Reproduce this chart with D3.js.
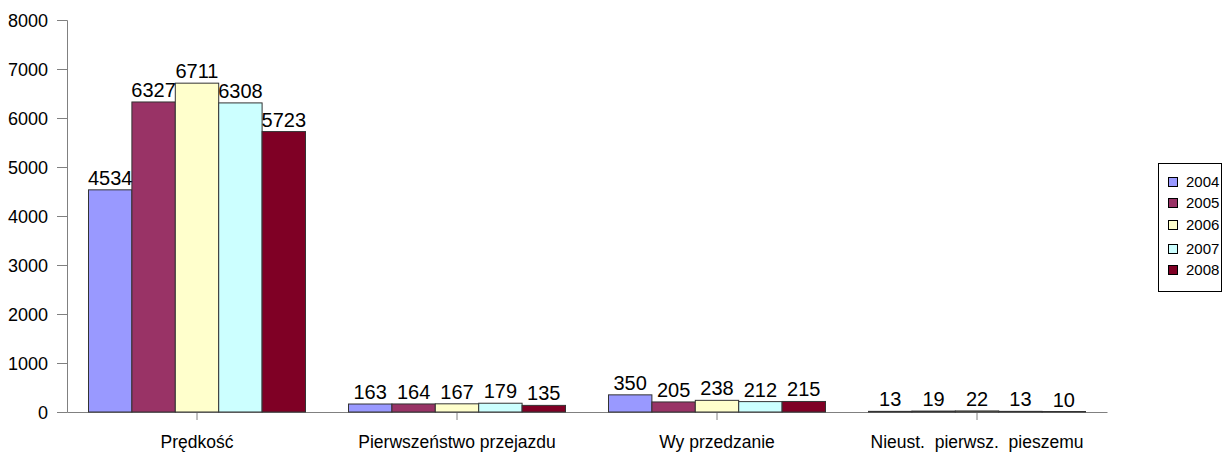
<!DOCTYPE html>
<html>
<head>
<meta charset="utf-8">
<script src="https://cdn.jsdelivr.net/npm/d3@7"></script>
<style>
  body { margin: 0; background: #fff; }
  text { font-family: Arial, "Liberation Sans", sans-serif; fill: #000; }
</style>
</head>
<body>
<div id="vis"></div>
<script>
// data
var categories = ['Prędkość', 'Pierwszeństwo przejazdu', 'Wy przedzanie', 'Nieust.  pierwsz.  pieszemu'];
var years = ['2004', '2005', '2006', '2007', '2008'];
var v2004 = [4534, 163, 350, 13];
var v2005 = [6327, 164, 205, 19];
var v2006 = [6711, 167, 238, 22];
var v2007 = [6308, 179, 212, 13];
var v2008 = [5723, 135, 215, 10];
var yTicks = [0, 1000, 2000, 3000, 4000, 5000, 6000, 7000, 8000];
var colors = ['#9999ff', '#993366', '#ffffcc', '#ccffff', '#7f0025'];

var series = [v2004, v2005, v2006, v2007, v2008];

var svgW = 1227, svgH = 452;
var svg = d3.select('#vis').append('svg').attr('width', svgW).attr('height', svgH);
var g = svg.append('g');

var x0 = d3.scaleBand().domain(categories).range([67, 1107]);
// group of 5 bars ~217px wide inside each 260px band
var x1 = d3.scaleBand().domain(years).range([21.5, x0.bandwidth() - 21.5]);
var y = d3.scaleLinear().domain([0, 8000]).range([412, 20]);

//y axis
var yAxis = d3.axisLeft(y).tickValues(yTicks).tickSize(10).tickPadding(9).tickFormat(d3.format('d'));
var ya = g.append('g').attr('transform', 'translate(67,0)').call(yAxis);
ya.select('.domain').attr('stroke', '#808080');
ya.selectAll('line').attr('stroke', '#808080');
ya.selectAll('text').style('font-size', '18px').attr('dy', '0.35em');

//x axis
var xAxis = d3.axisBottom(x0).tickSize(8).tickSizeOuter(0);
var xa = g.append('g').attr('transform', 'translate(0,412)').call(xAxis);
xa.select('.domain').attr('stroke', '#808080');
xa.selectAll('line').attr('stroke', '#808080');
xa.selectAll('text').style('font-size', '17.5px').style('white-space', 'pre')
  .attr('y', 36).attr('dy', '0');

//bars
var groups = g.selectAll('.grp').data(categories).enter().append('g')
  .attr('class', 'grp').attr('transform', function (d) { return 'translate(' + x0(d) + ',0)'; });

groups.each(function (cat, ci) {
  var gg = d3.select(this);
  var rows = years.map(function (yr, si) { return { yr: yr, val: series[si][ci], si: si }; });
  gg.selectAll('rect').data(rows).enter().append('rect')
    .attr('x', function (d) { return x1(d.yr); })
    .attr('y', function (d) { return y(d.val); })
    .attr('width', x1.bandwidth())
    .attr('height', function (d) { return y(0) - y(d.val); })
    .style('fill', function (d) { return colors[d.si]; })
    .style('stroke', '#333')
    .style('stroke-width', 1);
  gg.selectAll('.lbl').data(rows).enter().append('text').attr('class', 'lbl')
    .text(function (d) { return d.val; })
    .attr('x', function (d) { return x1(d.yr) + x1.bandwidth() / 2; })
    .attr('y', function (d) { return y(d.val) - 5; })
    .attr('text-anchor', 'middle')
    .style('font-size', '20px');
});

//legend
var leg = g.append('g');
leg.append('rect').attr('x', 1158.5).attr('y', 163.5).attr('width', 63).attr('height', 128)
  .style('fill', '#fff').style('stroke', '#000').style('stroke-width', 1);
var legY = [182, 203, 225, 249, 270];
var li = leg.selectAll('.li').data(years).enter().append('g').attr('class', 'li')
  .attr('transform', function (d, i) { return 'translate(0,' + legY[i] + ')'; });
li.append('rect').attr('x', 1168.5).attr('y', -4.5).attr('width', 9).attr('height', 9)
  .style('fill', function (d, i) { return colors[i]; }).style('stroke', '#000');
li.append('text').attr('x', 1186).attr('y', 0).attr('dy', '0.35em').text(String).style('font-size', '15px');
</script>
</body>
</html>
